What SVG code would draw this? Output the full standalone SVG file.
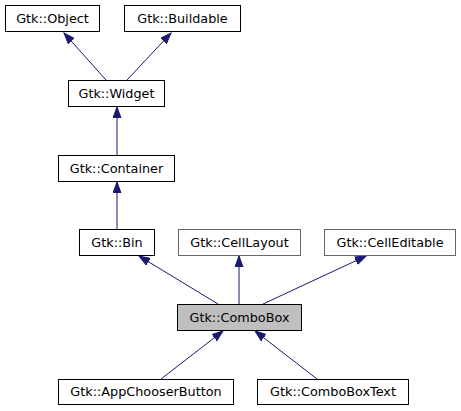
<svg xmlns="http://www.w3.org/2000/svg" width="461" height="411" viewBox="0 0 461 411">
<style>
.n rect{fill:#fff;stroke:#000;stroke-width:1}
.n.cur rect{fill:#bfbfbf}
.n.g rect{stroke:#666}
.n text{font-family:"DejaVu Sans",sans-serif;font-size:12.8px;fill:#000;text-anchor:middle}
.e path{fill:none;stroke:#191970;stroke-width:1;marker-end:url(#ah)}
</style>
<defs>
<marker id="ah" markerUnits="userSpaceOnUse" markerWidth="12" markerHeight="10" refX="11" refY="4.5" orient="auto" viewBox="0 0 12 10">
<path d="M0,0.5 L11,4.5 L0,8.5 z" fill="#191970" stroke="#191970"/>
</marker>
</defs>
<rect width="461" height="411" fill="#fff"/>
<g class="e">
<path d="M106,80 L64,33"/>
<path d="M127,80 L171,33"/>
<path d="M117,155 L117,107"/>
<path d="M117,229 L117,182"/>
<path d="M218,304 L139,256"/>
<path d="M239,304 L239,256"/>
<path d="M263,304 L366,256"/>
<path d="M161,379 L223,331"/>
<path d="M317,379 L255,331"/>
</g>
<g id="object" class="n"><rect x="5.5" y="5.5" width="94" height="26"/><text x="52.5" y="22.5">Gtk::Object</text></g>
<g id="buildable" class="n"><rect x="124.5" y="5.5" width="116" height="26"/><text x="182.5" y="22.5">Gtk::Buildable</text></g>
<g id="widget" class="n"><rect x="68.5" y="80.5" width="96" height="26"/><text x="116.5" y="97.5">Gtk::Widget</text></g>
<g id="container" class="n"><rect x="58.5" y="155.5" width="116" height="26"/><text x="116.5" y="172.5">Gtk::Container</text></g>
<g id="bin" class="n"><rect x="79.5" y="229.5" width="75" height="26"/><text x="117" y="246.5">Gtk::Bin</text></g>
<g id="celllayout" class="n g"><rect x="178.5" y="229.5" width="122" height="26"/><text x="239.5" y="246.5">Gtk::CellLayout</text></g>
<g id="celleditable" class="n g"><rect x="324.5" y="229.5" width="131" height="26"/><text x="390" y="246.5">Gtk::CellEditable</text></g>
<g id="combobox" class="n cur"><rect x="177.5" y="304.5" width="124" height="26"/><text x="239.5" y="321.5">Gtk::ComboBox</text></g>
<g id="appchooserbutton" class="n"><rect x="58.5" y="379.5" width="175" height="25"/><text x="146" y="396">Gtk::AppChooserButton</text></g>
<g id="comboboxtext" class="n"><rect x="257.5" y="379.5" width="151" height="25"/><text x="333" y="396">Gtk::ComboBoxText</text></g>
</svg>
